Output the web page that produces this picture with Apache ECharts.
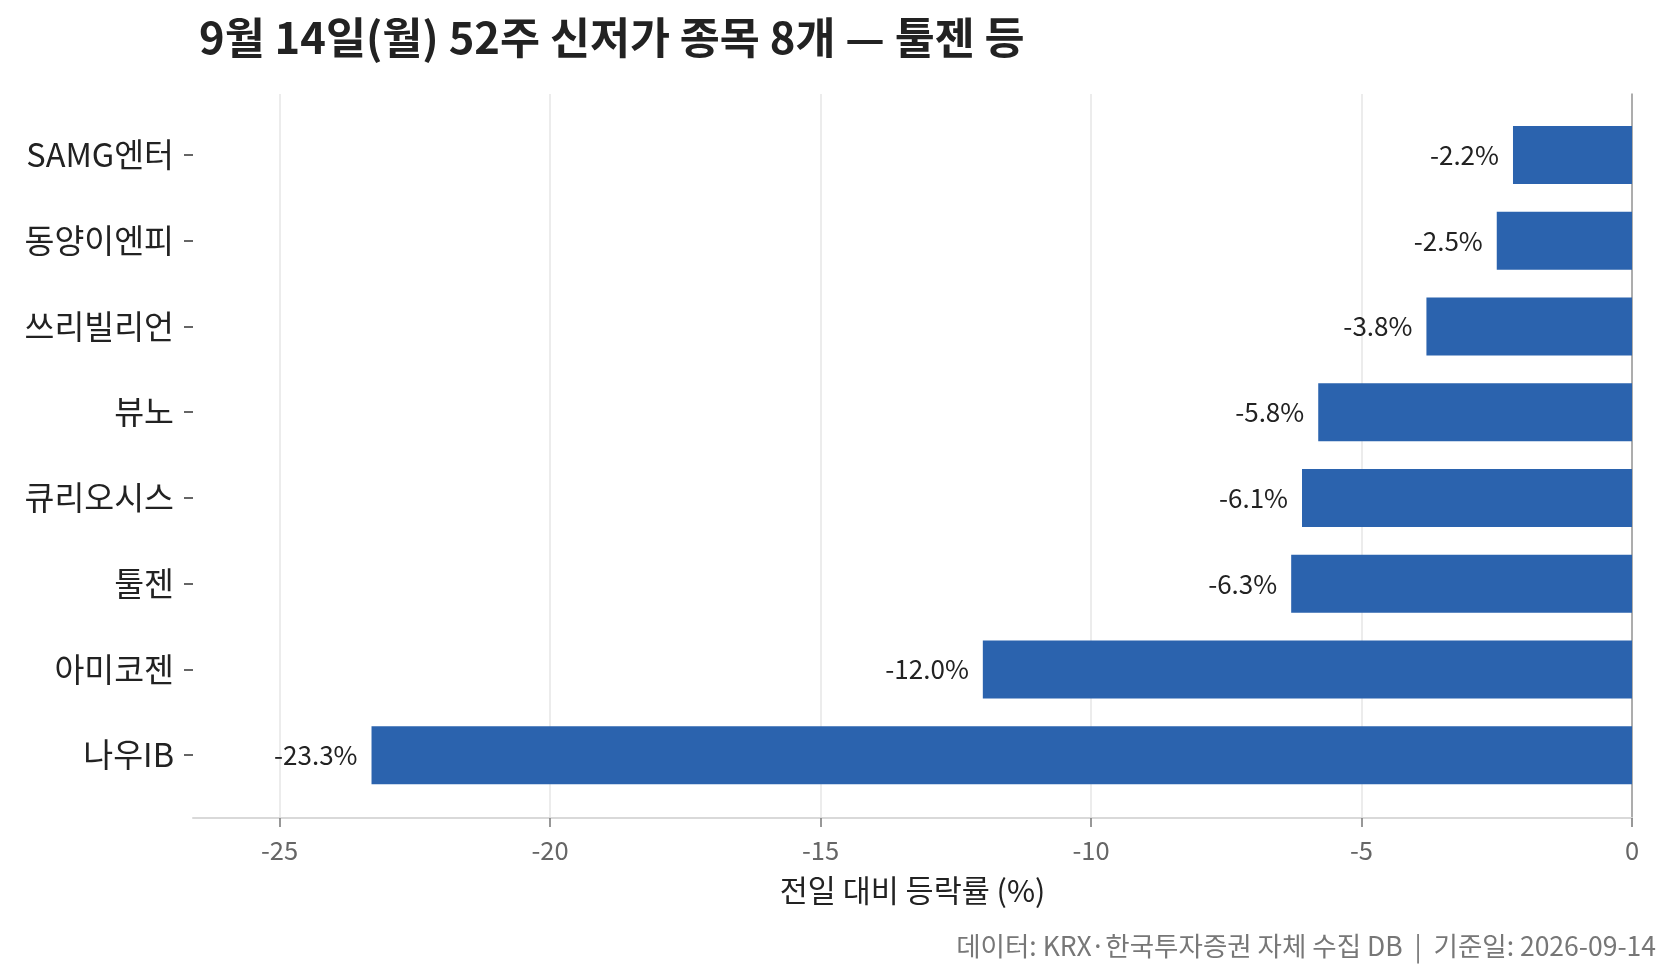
<!DOCTYPE html>
<html>
<head>
<meta charset="utf-8">
<script src="https://cdn.jsdelivr.net/npm/echarts@6/dist/echarts.min.js"></script>
<style>
  html, body { margin: 0; padding: 0; background: #fff; }
  #main { width: 1673px; height: 975px; }
</style>
</head>
<body>
<div id="main"></div>
<script>
	// 종목 / 등락률
	var names = ['SAMG엔터', '동양이엔피', '쓰리빌리언', '뷰노', '큐리오시스', '툴젠', '아미코젠', '나우IB'];
	var changes = [-2.2, -2.5, -3.8, -5.8, -6.1, -6.3, -12.0, -23.3];
	var xTicks = [-25, -20, -15, -10, -5, 0];

	var FONT = '"Noto Sans CJK KR", "Noto Sans", sans-serif';
	var xMin = -26.6, xMax = 0;

	var myChart = echarts.init(document.getElementById('main'));

	var option = {
		backgroundColor : '#ffffff',
		animation : false,
		textStyle : { fontFamily : FONT },
		title : [ {
			text : '9월 14일(월) 52주 신저가 종목 8개 — 툴젠 등',
			left : 194,
			top : 11,
			textStyle : { fontFamily : FONT, fontSize : 43.5, fontWeight : 'bold', color : '#222222' }
		}, {
			text : '데이터: KRX·한국투자증권 자체 수집 DB  |  기준일: 2026-09-14',
			right : 12,
			top : 928,
			textStyle : { fontFamily : FONT, fontSize : 26.5, fontWeight : 'normal', color : '#777777' }
		} ],
		grid : [ {
			// 전체 영역 (격자, x축)
			left : 193, right : 41, top : 94, bottom : 157
		}, {
			// 막대 영역
			left : 193, right : 41, top : 112, bottom : 177
		} ],
		xAxis : [ {
			gridIndex : 0,
			type : 'value',
			min : xMin,
			max : xMax,
			name : '전일 대비 등락률 (%)',
			nameLocation : 'middle',
			nameGap : 57,
			nameTextStyle : { fontFamily : FONT, fontSize : 30.5, color : '#222222' },
			axisLine : { show : true, lineStyle : { color : '#d9d9d9', width : 2 } },
			axisTick : { show : true, length : 9, customValues : xTicks, lineStyle : { color : '#777777', width : 1.5 } },
			axisLabel : { customValues : xTicks, margin : 20, fontFamily : FONT, fontSize : 25.5, color : '#666666' },
			splitLine : { show : true, lineStyle : { color : '#e6e6e6', width : 1.5 } }
		}, {
			gridIndex : 1,
			type : 'value',
			min : xMin,
			max : xMax,
			show : false
		} ],
		yAxis : [ {
			// 0 기준선
			gridIndex : 0,
			type : 'value',
			min : 0,
			max : 1,
			position : 'right',
			axisLine : { show : true, onZero : false, lineStyle : { color : '#999999', width : 1.5 } },
			axisTick : { show : false },
			axisLabel : { show : false },
			splitLine : { show : false }
		}, {
			gridIndex : 1,
			type : 'category',
			inverse : true,
			position : 'left',
			data : names,
			axisLine : { show : true, onZero : false, lineStyle : { color : 'rgba(0,0,0,0)' } },
			axisTick : { show : true, inside : false, length : 9, alignWithLabel : true, lineStyle : { color : '#333333', width : 1.5 } },
			axisLabel : { margin : 19, fontFamily : FONT, fontSize : 32.5, color : '#222222' },
			splitLine : { show : false }
		} ],
		series : [ {
			name : '등락률',
			type : 'bar',
			xAxisIndex : 1,
			yAxisIndex : 1,
			barWidth : 58,
			itemStyle : { color : '#2b63ae' },
			label : {
				show : true,
				position : 'left',
				distance : 14,
				fontFamily : FONT,
				fontSize : 26,
				color : '#222222',
				formatter : function (p) { return p.value.toFixed(1) + '%'; }
			},
			data : changes
		} ]
	};
	myChart.setOption(option);
</script>
</body>
</html>
